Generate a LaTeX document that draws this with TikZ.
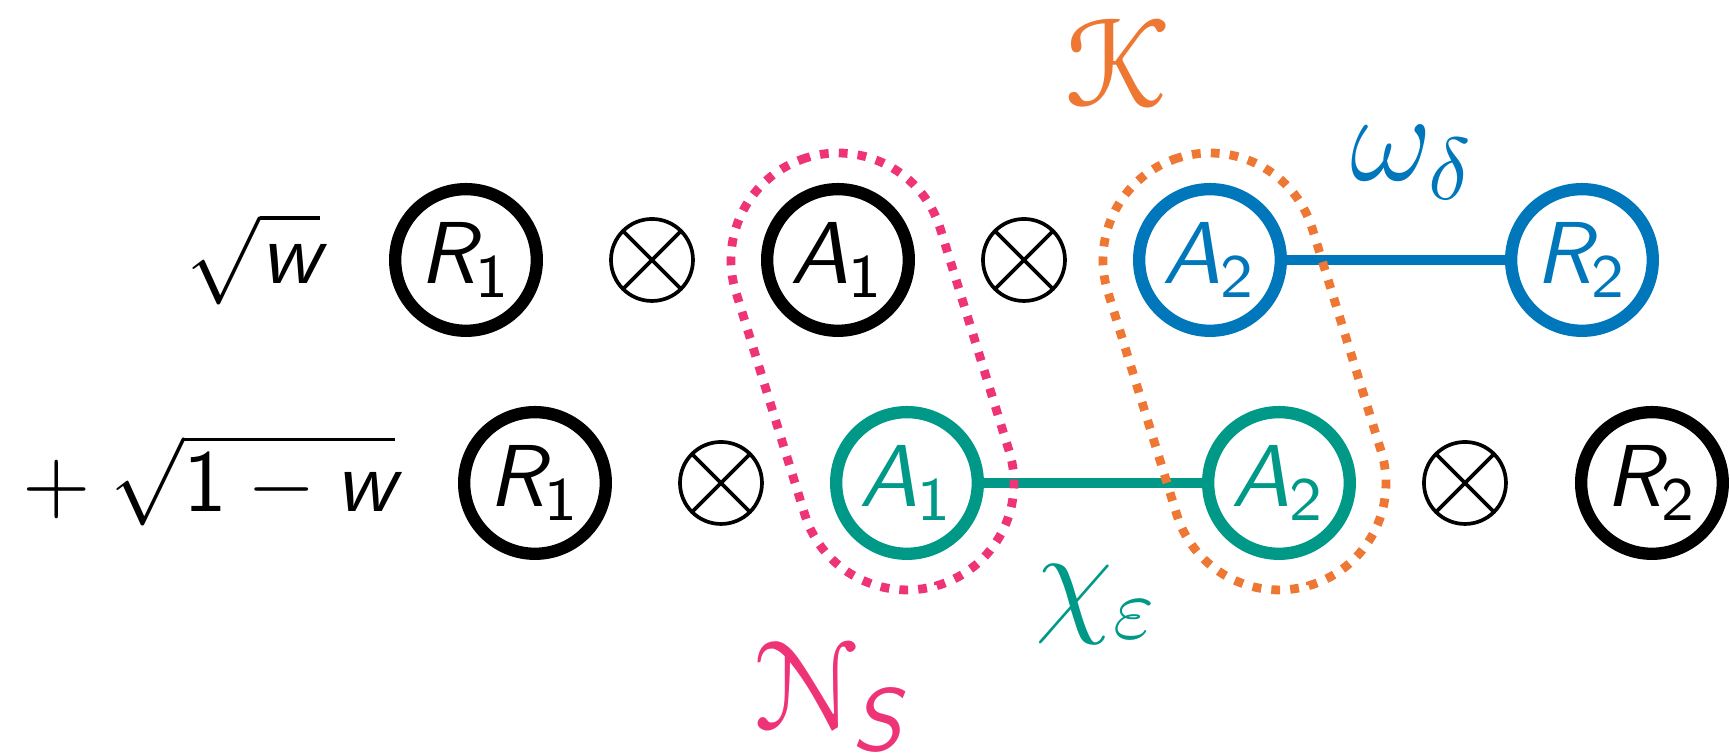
\documentclass[tikz,border=0pt]{standalone}
\usepackage{amsmath}
\usepackage[mathcal]{eucal}
\definecolor{tolblue}{HTML}{0077BB}
\definecolor{tolteal}{HTML}{009988}
\definecolor{tolorange}{HTML}{EE7733}
\definecolor{tolmagenta}{HTML}{EE3377}
\newcommand{\svar}[1]{\text{\sffamily\itshape #1}}
\newcommand{\snum}[1]{\text{\sffamily #1}}
\begin{document}
\begin{tikzpicture}[x=0.11364pt,y=-0.11364pt,
  reg/.style={circle,draw,line width=1.4pt,minimum size=16.1pt,inner sep=0pt,outer sep=0pt},
  otimes/.style={circle,draw,line width=0.42pt,minimum size=9.32pt,inner sep=0pt,outer sep=0pt},
  crossline/.style={line width=0.42pt},
  loopbox/.style={rectangle,draw,line width=1.0pt,dash pattern=on 1.0pt off 1.15pt,
    minimum width=24.32pt,minimum height=50.84pt,rounded corners=12.16pt,
    inner sep=0pt,rotate=17.2},
  link/.style={line width=1.15pt},
  lab/.style={font=\Large,inner sep=0pt}
]
\useasboundingbox (0,0) rectangle (1730,755);

% coefficients
\node[anchor=base east,inner sep=0pt] (coefT) at (322,284) {$\sqrt{\svar{w}}$};
\node[anchor=base east,inner sep=0pt] (coefB) at (397,512) {${}+\sqrt{\snum{1}-\svar{w}}$};

% top row
\node[reg] (R1t) at (466,260) {$\svar{R}_{\snum{1}}$};
\node[otimes] (X1t) at (652,260) {};
\node[reg] (A1t) at (838,260) {$\svar{A}_{\snum{1}}$};
\node[otimes] (X2t) at (1024,260) {};
\node[reg,tolblue] (A2t) at (1210,260) {$\svar{A}_{\snum{2}}$};
\node[reg,tolblue] (R2t) at (1582,260) {$\svar{R}_{\snum{2}}$};

% bottom row
\node[reg] (R1b) at (535,483) {$\svar{R}_{\snum{1}}$};
\node[otimes] (X1b) at (721,483) {};
\node[reg,tolteal] (A1b) at (907,483) {$\svar{A}_{\snum{1}}$};
\node[reg,tolteal] (A2b) at (1279,483) {$\svar{A}_{\snum{2}}$};
\node[otimes] (X2b) at (1465,483) {};
\node[reg] (R2b) at (1652,483) {$\svar{R}_{\snum{2}}$};

% crosses
\foreach \n in {X1t,X2t,X1b,X2b}{
  \draw[crossline] (\n.45) -- (\n.225) (\n.135) -- (\n.-45);
}

% links
\draw[link,tolblue] (A2t) -- (R2t);
\draw[link,tolteal] (A1b) -- (A2b);

% dotted loops
\node[loopbox,tolmagenta] (Nloop) at (872.5,371.5) {};
\node[loopbox,tolorange] (Kloop) at (1244.5,371.5) {};

% labels
\node[lab,tolorange] (Klab) at (1118,62) {$\mathcal{K}$};
\node[lab,tolblue] (wlab) at (1413,163) {$\omega_{\delta}$};
\node[lab,tolteal] (chilab) at (1097,605) {$\chi_{\varepsilon}$};
\node[lab,tolmagenta] (Nlab) at (830,697) {$\mathcal{N}_{\svar{S}}$};
\end{tikzpicture}
\end{document}
